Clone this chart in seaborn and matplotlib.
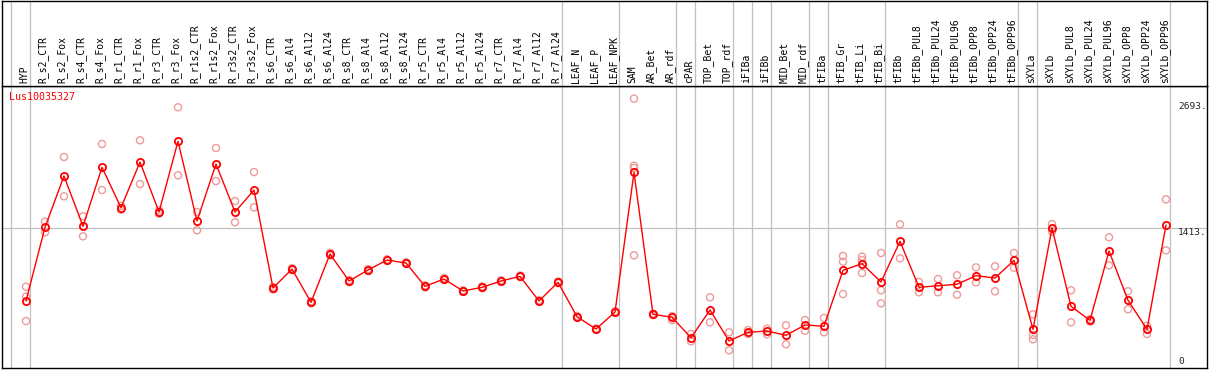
import numpy as np
import pandas as pd
import matplotlib
matplotlib.use("Agg")
import matplotlib.pyplot as plt
import matplotlib.transforms as mtransforms
import seaborn as sns

# sample groups (grey separators are drawn between groups)
groups = [
    ["HYP"],
    ["R_s2_CTR", "R_s2_Fox", "R_s4_CTR", "R_s4_Fox", "R_r1_CTR", "R_r1_Fox",
     "R_r3_CTR", "R_r3_Fox", "R_r1s2_CTR", "R_r1s2_Fox", "R_r3s2_CTR", "R_r3s2_Fox",
     "R_s6_CTR", "R_s6_Al4", "R_s6_Al12", "R_s6_Al24", "R_s8_CTR", "R_s8_Al4",
     "R_s8_Al12", "R_s8_Al24", "R_r5_CTR", "R_r5_Al4", "R_r5_Al12", "R_r5_Al24",
     "R_r7_CTR", "R_r7_Al4", "R_r7_Al12", "R_r7_Al24"],
    ["LEAF_N", "LEAF_P", "LEAF_NPK"],
    ["SAM", "AR_Bet", "AR_rdf"],
    ["cPAR"],
    ["TOP_Bet", "TOP_rdf"],
    ["iFIBa"],
    ["iFIBb"],
    ["MID_Bet", "MID_rdf"],
    ["tFIBa"],
    ["tFIB_Gr", "tFIB_Li", "tFIB_Bi"],
    ["tFIBb", "tFIBb_PUL8", "tFIBb_PUL24", "tFIBb_PUL96", "tFIBb_OPP8",
     "tFIBb_OPP24", "tFIBb_OPP96"],
    ["sXYLa"],
    ["sXYLb", "sXYLb_PUL8", "sXYLb_PUL24", "sXYLb_PUL96", "sXYLb_OPP8",
     "sXYLb_OPP24", "sXYLb_OPP96"],
]
samples = [s for g in groups for s in g]

gene = "Lus10035327"
y_ticks = [0, 1413, 2693]

means = [678, 1423, 1942, 1433, 2030, 1621, 2083, 1578, 2293, 1487, 2063, 1578, 1800,
         809, 1001, 664, 1153, 880, 991, 1092, 1062, 826, 900, 779, 816, 880, 927, 678, 867,
         519, 394, 566,
         1979, 543, 513,
         306,
         587, 273,
         361,
         374,
         331, 435,
         422,
         988, 1055, 870,
         1281, 816, 832, 847, 934, 910, 1089,
         391,
         1416, 624, 482, 1183, 685, 391, 1446]

replicates = [
    [822, 721, 475], [1480, 1372], [2134, 1737], [1534, 1332], [2266, 1800],
    [1640, 1600], [2303, 1861], [1595, 1560], [2637, 1949], [1578, 1393],
    [2225, 1891], [1689, 1474], [1982, 1625],
    [820, 795], [1010, 990], [675, 655], [1165, 1140], [890, 870], [1000, 980],
    [1100, 1085], [1070, 1055], [835, 815], [910, 890], [785, 770], [825, 808],
    [888, 872], [935, 920], [686, 670], [875, 858],
    [527, 510], [400, 386], [575, 558],
    [2725, 2046, 2023, 1140], [550, 535], [525, 485],
    [344, 270],
    [715, 462], [361, 179],
    [384, 344],
    [397, 341],
    [432, 240], [485, 377],
    [506, 361],
    [1133, 1075, 748], [1126, 1092, 961], [1163, 786, 654],
    [1453, 1109], [870, 766], [900, 766], [938, 741], [1018, 867], [1029, 776], [1163, 1014],
    [543, 334, 290],
    [1456, 1379], [786, 462], [495, 470], [1322, 1039], [776, 594], [428, 344], [1706, 1190],
]

df_mean = pd.DataFrame({"pos": np.arange(len(samples)), "sample": samples, "value": means})
df_rep = pd.DataFrame([(i, v) for i, reps in enumerate(replicates) for v in reps],
                      columns=["pos", "value"])

sns.set_style("white")
plt.rcParams["font.family"] = ["DejaVu Sans Mono", "DejaVu Sans"]

W, H = 1209, 370
fig = plt.figure(figsize=(W / 100, H / 100), dpi=100)
fig.patch.set_facecolor("white")

# layout in pixels
left_px, right_px = 1.5, 1207.3
top_px, head_px, bottom_px = 0.5, 85.7, 368.0
x0_px, step_px = 26, 19

ax = fig.add_axes([left_px / W, (H - bottom_px) / H,
                   (right_px - left_px) / W, (bottom_px - head_px) / H])
axh = fig.add_axes([left_px / W, (H - head_px) / H,
                    (right_px - left_px) / W, (head_px - top_px) / H], sharex=ax)

xmin = (left_px - x0_px) / step_px
xmax = (right_px - x0_px) / step_px
ax.set_xlim(xmin, xmax)
ymax = 1413 * (bottom_px - head_px) / (bottom_px - 228.3)
ax.set_ylim(0, ymax)
axh.set_ylim(0, 1)

grey = "#c0c0c0"
# group separators
bounds = np.cumsum([0] + [len(g) for g in groups]) - 1
for b in bounds:
    for a in (ax, axh):
        a.axvline(b + 0.22, color=grey, lw=0.9, zorder=0)
ax.axhline(1413, color=grey, lw=0.9, zorder=0)

sns.scatterplot(data=df_rep, x="pos", y="value", ax=ax, marker="o", s=26,
                facecolor="none", edgecolor="#ee9a9a", linewidth=1.0, zorder=2, legend=False)
sns.lineplot(data=df_mean, x="pos", y="value", ax=ax, color="red", lw=1.0,
             marker="o", markersize=5.2, markerfacecolor="none", markeredgecolor="red",
             markeredgewidth=1.3, sort=False, zorder=3)

for a in (ax, axh):
    a.set_xticks([])
    a.set_yticks([])
    a.set_xlabel("")
    a.set_ylabel("")
    a.set_facecolor("white")
    for sp in a.spines.values():
        sp.set_visible(True)
        sp.set_color("black")
        sp.set_linewidth(1.0)

# sample names in the header strip
trans = mtransforms.blended_transform_factory(axh.transData, axh.transAxes)
for i, s in enumerate(samples):
    axh.text(i - 0.1, 0.03, s, rotation=90, ha="center", va="bottom",
             fontsize=7.0, color="black", transform=trans)

ax.text(0.0065, 0.961, gene, color="red", fontsize=7.2, ha="left", va="center",
        transform=ax.transAxes)

xt = (1178 - x0_px) / step_px
for t in y_ticks:
    if t == 0:
        ax.text(xt, 0.008 * ymax, "0", fontsize=6.8, ha="left", va="bottom")
    else:
        ax.text(xt, t, f"{t}.", fontsize=6.8, ha="left", va="top")

fig.savefig("out.png", dpi=100, facecolor="white")
